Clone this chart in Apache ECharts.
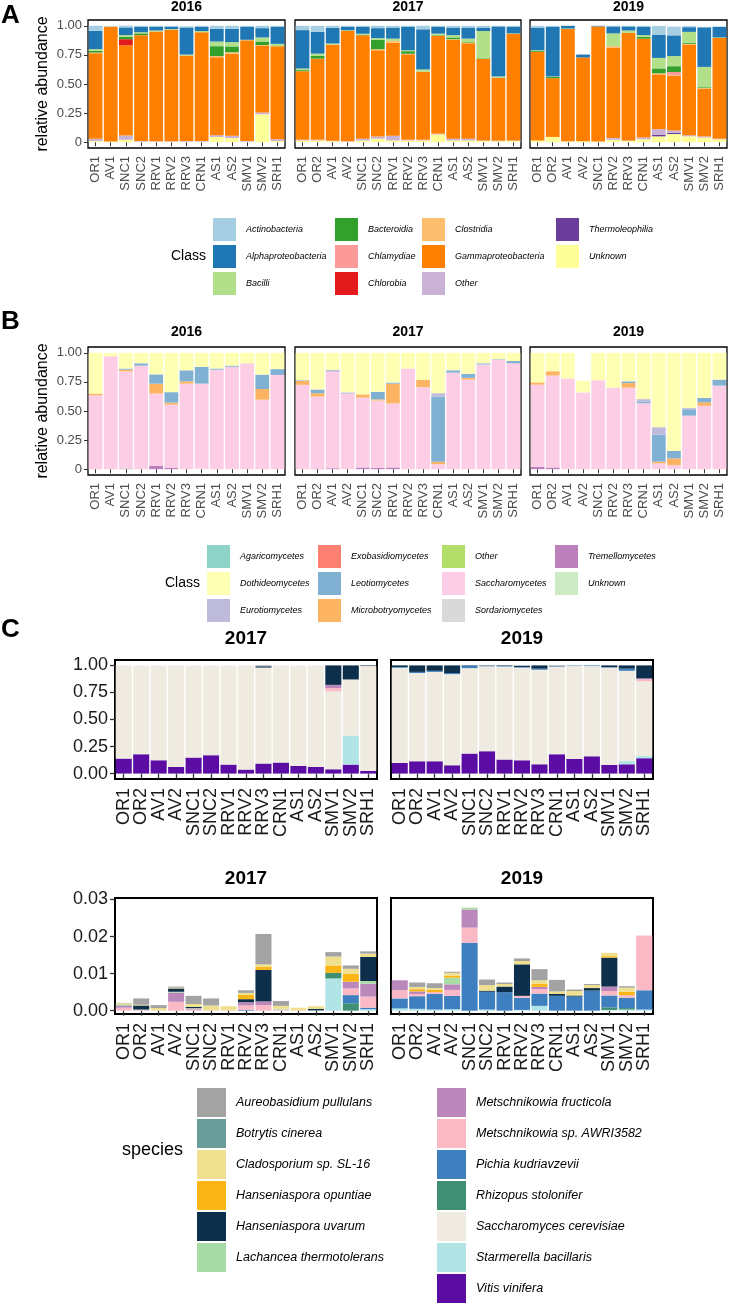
<!DOCTYPE html>
<html><head><meta charset="utf-8">
<script src="https://cdn.jsdelivr.net/npm/echarts@6/dist/echarts.min.js"></script>
<style>html,body{margin:0;padding:0;background:#fff}#c{width:729px;height:1312px}</style>
</head><body><div id="c"></div>
<script>
// ================= DATA =================
// ---- Panel A : bacterial classes ----
const A_classes = ['Actinobacteria','Alphaproteobacteria','Bacilli','Bacteroidia','Chlamydiae','Chlorobia','Clostridia','Gammaproteobacteria','Other','Thermoleophilia','Unknown'];
const A_colors  = ['#a6cee3','#1f78b4','#b2df8a','#33a02c','#fb9a99','#e31a1c','#fdbf6f','#ff7f00','#cab2d6','#6a3d9a','#ffff99'];
const A2016_sites = ['OR1','AV1','SNC1','SNC2','RRV1','RRV2','RRV3','CRN1','AS1','AS2','SMV1','SMV2','SRH1'];
const A2017_sites = ['OR1','OR2','AV1','AV2','SNC1','SNC2','RRV1','RRV2','RRV3','CRN1','AS1','AS2','SMV1','SMV2','SRH1'];
const A2019_sites = ['OR1','OR2','AV1','AV2','SNC1','RRV2','RRV3','CRN1','AS1','AS2','SMV1','SMV2','SRH1'];
const A2016 = {
  Actinobacteria:      [.043,.005,.015,.01,.01,.01,.01,.01,.025,.025,.01,.02,.01],
  Alphaproteobacteria: [.157,0,.066,.045,.03,.018,.233,.035,.11,.115,.11,.08,.145],
  Bacilli:             [.015,0,.015,.01,.008,.005,.008,.01,.04,.037,.005,.035,.02],
  Bacteroidia:         [.015,0,.02,.015,0,0,0,0,.085,.05,0,.03,0],
  Chlorobia:           [0,0,.052,0,0,0,0,0,0,0,0,0,0],
  Clostridia:          [.005,.005,0,0,0,0,0,0,.01,.012,0,.005,0],
  Gammaproteobacteria: [.735,.985,.776,.91,.945,.96,.735,.935,.67,.706,.865,.575,.80],
  Other:               [.02,0,.037,.005,.004,.004,.005,.005,.015,.02,.005,.015,.015],
  Unknown:             [.01,.005,.02,.005,.003,.003,.005,.005,.045,.035,.005,.24,.01]
};
const A2017 = {
  Actinobacteria:      [.037,.052,.017,.01,.01,.02,.015,.01,.03,.01,.015,.015,.015,.005,.01],
  Alphaproteobacteria: [.33,.187,.135,.028,.058,.086,.095,.20,.345,.057,.065,.095,.03,.43,.055],
  Bacilli:             [.014,.02,.01,.005,.008,.015,.02,.008,.02,.01,.02,.03,.235,.012,.005],
  Bacteroidia:         [.009,.023,0,0,.005,.08,0,.022,0,.006,.015,.005,.005,0,0],
  Clostridia:          [0,0,0,0,0,.01,.015,.005,0,.005,.005,.005,0,0,0],
  Gammaproteobacteria: [.59,.698,.825,.95,.89,.74,.80,.735,.585,.84,.85,.82,.70,.54,.915],
  Other:               [.005,.005,.005,.004,.015,.02,.04,.005,.005,.005,.015,.015,.005,.005,.005],
  Unknown:             [.015,.015,.008,.003,.014,.029,.015,.015,.015,.067,.015,.015,.01,.008,.01]
};
const A2019 = {
  Actinobacteria:      [.015,.01,0,0,0,.005,.005,.01,.075,.075,.01,.005,.005],
  Alphaproteobacteria: [.195,.425,.023,.025,.005,.06,.035,.07,.20,.178,.04,.34,.09],
  Bacilli:             [.005,.005,.005,0,0,.11,.02,.015,.09,.087,.095,.175,.005],
  Bacteroidia:         [.008,.01,0,0,0,0,0,.015,.042,.05,.008,.007,0],
  Chlamydiae:          [0,0,0,0,0,0,0,0,0,.028,0,0,0],
  Clostridia:          [0,0,0,0,0,.012,0,0,.01,.005,.005,.005,0],
  Gammaproteobacteria: [.762,.505,.965,.72,.99,.778,.925,.85,.47,.47,.78,.41,.865],
  Other:               [0,0,0,0,0,.015,.005,.015,.05,.02,.01,.01,.005],
  Thermoleophilia:     [0,0,0,0,0,0,0,0,.012,.01,0,0,0],
  Unknown:             [.015,.045,.007,.008,.005,.02,.01,.025,.05,.07,.05,.04,.025]
};

// ---- Panel B : fungal classes ----
const B_classes = ['Agaricomycetes','Dothideomycetes','Eurotiomycetes','Exobasidiomycetes','Leotiomycetes','Microbotryomycetes','Other','Saccharomycetes','Sordariomycetes','Tremellomycetes','Unknown'];
const B_colors  = ['#8dd3c7','#ffffb3','#bebada','#fb8072','#80b1d3','#fdb462','#b3de69','#fccde5','#d9d9d9','#bc80bd','#ccebc5'];
const B2016_sites = ['OR1','AV1','SNC1','SNC2','RRV1','RRV2','RRV3','CRN1','AS1','AS2','SMV1','SMV2','SRH1'];
const B2017_sites = ['OR1','OR2','AV1','AV2','SNC1','SNC2','RRV1','RRV2','RRV3','CRN1','AS1','AS2','SMV1','SMV2','SRH1'];
const B2019_sites = ['OR1','OR2','AV1','AV2','SNC1','RRV2','RRV3','CRN1','AS1','AS2','SMV1','SMV2','SRH1'];
const B2016 = {
  Dothideomycetes:    [.35,.03,.135,.09,.185,.338,.15,.12,.135,.11,.09,.187,.14],
  Leotiomycetes:      [0,0,.01,.02,.08,.09,.095,.145,.01,.01,0,.124,.05],
  Microbotryomycetes: [.015,0,.015,0,.085,.017,.02,0,0,0,0,.092,0],
  Saccharomycetes:    [.635,.97,.83,.89,.62,.545,.735,.73,.855,.88,.91,.597,.81],
  Sordariomycetes:    [0,0,.005,0,0,0,0,.005,0,0,0,0,0],
  Tremellomycetes:    [0,0,.005,0,.03,.01,0,0,0,0,0,0,0]
};
const B2017 = {
  Dothideomycetes:    [.235,.314,.147,.34,.357,.335,.255,.135,.232,.347,.15,.18,.09,.055,.07],
  Eurotiomycetes:     [0,.005,.015,.012,0,0,0,0,0,.03,0,0,0,0,0],
  Leotiomycetes:      [.005,.028,0,0,0,.065,.01,0,0,.56,.02,.035,.01,.005,.02],
  Microbotryomycetes: [.035,.028,0,0,.028,.01,.17,0,.063,.02,0,.015,0,0,0],
  Saccharomycetes:    [.725,.62,.83,.648,.60,.58,.55,.865,.705,.043,.83,.77,.90,.94,.91],
  Tremellomycetes:    [0,.005,.008,0,.015,.01,.015,0,0,0,0,0,0,0,0]
};
const B2019 = {
  Dothideomycetes:    [.254,.158,.22,.10,.236,.30,.245,.398,.639,.844,.475,.388,.23],
  Eurotiomycetes:     [0,0,0,0,0,0,0,.02,.066,0,.01,0,0],
  Leotiomycetes:      [0,0,0,0,0,0,.015,.015,.23,.063,.055,.037,.052],
  Microbotryomycetes: [.02,.037,0,0,0,0,.04,0,.015,.058,0,.03,0],
  Saccharomycetes:    [.706,.79,.78,.66,.764,.70,.70,.567,.05,.035,.46,.545,.718],
  Tremellomycetes:    [.02,.015,0,0,0,0,0,0,0,0,0,0,0]
};

// ---- Panel C : species ----
const C_species = ['Aureobasidium pullulans','Botrytis cinerea','Cladosporium sp. SL-16','Hanseniaspora opuntiae','Hanseniaspora uvarum','Lachancea thermotolerans','Metschnikowia fructicola','Metschnikowia sp. AWRI3582','Pichia kudriavzevii','Rhizopus stolonifer','Saccharomyces cerevisiae','Starmerella bacillaris','Vitis vinifera'];
const C_colors  = ['#a3a3a3','#6a9c9a','#eee08f','#fbb615','#0e2f4c','#a8dca6','#bb88bb','#fbb9c6','#3d7fbf','#3f8f74','#efebe0','#b1e5e5','#5a0ca3'];
const C_sites = ['OR1','OR2','AV1','AV2','SNC1','SNC2','RRV1','RRV2','RRV3','CRN1','AS1','AS2','SMV1','SMV2','SRH1'];
const C2017_all = {
  'Aureobasidium pullulans':    [0,0,0,0,0,0,0,0,.008,0,0,0,0,0,0],
  'Hanseniaspora uvarum':       [0,0,0,0,0,0,0,0,.012,0,0,0,.18,.13,.005],
  'Metschnikowia fructicola':   [0,0,0,0,0,0,0,0,0,0,0,0,.03,0,0],
  'Metschnikowia sp. AWRI3582': [0,0,0,0,0,0,0,0,0,0,0,0,.03,0,.005],
  'Saccharomyces cerevisiae':   [.861,.821,.877,.938,.852,.83,.917,.963,.887,.898,.929,.938,.72,.52,.965],
  'Starmerella bacillaris':     [0,0,0,0,0,0,0,0,0,0,0,0,0,.267,0],
  'Vitis vinifera':             [.139,.179,.123,.062,.148,.17,.083,.037,.093,.102,.071,.062,.04,.083,.025]
};
const C2019_all = {
  'Aureobasidium pullulans':    [0,0,0,0,0,0,0,0,0,.004,0,0,0,0,0],
  'Hanseniaspora uvarum':       [.015,.06,.05,.07,.005,.003,.005,.012,.03,.002,0,0,.015,.03,.12],
  'Metschnikowia fructicola':   [0,0,0,0,0,0,0,0,0,0,0,0,0,0,.008],
  'Metschnikowia sp. AWRI3582': [0,0,0,0,0,0,0,0,0,0,0,0,0,0,.02],
  'Pichia kudriavzevii':        [.006,.01,.01,.01,.02,.005,.005,.005,.01,.005,.004,.006,.005,.02,0],
  'Saccharomyces cerevisiae':   [.88,.816,.826,.843,.79,.785,.86,.857,.874,.81,.86,.834,.9,.834,.69],
  'Starmerella bacillaris':     [0,0,0,0,0,0,0,0,0,0,0,0,0,.03,.02],
  'Vitis vinifera':             [.099,.114,.114,.077,.185,.207,.13,.123,.086,.179,.136,.16,.08,.086,.142]
};
const C2017_minor = {
  'Aureobasidium pullulans':    [.0001,.0017,.0008,.0003,.0022,.0019,0,.0007,.0082,.0013,0,0,.0012,.0009,.0006],
  'Cladosporium sp. SL-16':     [.0004,.0002,.0006,.0002,.0008,.0013,.0011,.0005,.0006,.0008,.0007,.0007,.0024,.0013,.0009],
  'Hanseniaspora opuntiae':     [0,0,0,0,0,0,0,.0012,.0009,0,0,0,.002,.0022,0],
  'Hanseniaspora uvarum':       [.0001,.0011,0,.0009,.0003,0,0,.0008,.0085,0,0,.0004,0,0,.0065],
  'Lachancea thermotolerans':   [.0002,.0001,0,.0002,.0001,0,0,0,0,.0002,0,0,0,0,.0007],
  'Metschnikowia fructicola':   [.0005,0,0,.0025,.0003,0,0,.0009,.001,0,0,0,0,.0018,.0035],
  'Metschnikowia sp. AWRI3582': [.0008,.0002,.0001,.0024,.0003,.0001,.0001,.0012,.0015,.0003,.0001,0,0,.0018,.003],
  'Pichia kudriavzevii':        [0,0,0,0,0,0,0,.0002,0,0,0,0,0,.0022,.0004],
  'Rhizopus stolonifer':        [0,0,0,0,0,0,0,0,0,0,0,.0001,.0015,.002,0],
  'Starmerella bacillaris':     [0,0,0,0,0,0,0,0,0,0,0,0,.0087,0,.0004]
};
const C2019_minor = {
  'Aureobasidium pullulans':    [0,.0012,.0013,.0003,0,.0015,.0004,.0007,.003,.0031,.0004,.0003,0,.0004,0],
  'Cladosporium sp. SL-16':     [0,.0006,.0005,.0008,0,.0015,.0007,.0009,.0009,.0007,.0012,.0008,.0009,.0011,0],
  'Hanseniaspora opuntiae':     [0,.0006,.0006,.0005,0,0,0,0,.0009,0,0,0,.0004,.0009,0],
  'Hanseniaspora uvarum':       [0,0,0,0,0,.0003,.0015,.0085,0,.0005,.0003,.0007,.0078,0,0],
  'Lachancea thermotolerans':   [0,0,0,.0018,.0005,0,0,0,0,0,0,0,0,0,0],
  'Metschnikowia fructicola':   [.0027,.0007,0,.0015,.0049,0,0,0,.0006,0,0,0,.0012,0,0],
  'Metschnikowia sp. AWRI3582': [.0022,.0006,.0005,.0016,.0041,0,0,.0005,.0012,0,0,0,.0012,.0007,.0148],
  'Pichia kudriavzevii':        [.0027,.0034,.0042,.0036,.0183,.0048,.005,.0033,.0033,.004,.0038,.0054,.0032,.0028,.0052],
  'Rhizopus stolonifer':        [0,0,0,0,0,0,0,0,0,0,0,0,.0007,.0004,0],
  'Starmerella bacillaris':     [.0006,.0005,.0003,.0004,0,.0003,0,.0002,.0013,0,0,0,.0002,.0003,.0003]
};
const AB_ticks = [0, 0.25, 0.5, 0.75, 1];
const C_top_ticks = [0, 0.25, 0.5, 0.75, 1];
const C_bot_ticks = [0, 0.01, 0.02, 0.03];

// ================= BUILD =================
const FONT = '"Liberation Sans", Arial, Helvetica, sans-serif';
const grids = [], xAxes = [], yAxes = [], series = [], legends = [], graphics = [];

function panel(o) {
  const gi = grids.length;
  grids.push({left:o.x, top:o.y, width:o.w, height:o.h, show:true, borderColor:'#000', borderWidth:o.bw, backgroundColor:'rgba(0,0,0,0)'});
  xAxes.push({type:'category', gridIndex:gi, data:o.cats, boundaryGap:true,
    axisLine:{show:false}, splitLine:{show:false},
    axisTick:{show:true, alignWithLabel:true, length:o.tl, lineStyle:{color:'#333', width:o.tw}},
    axisLabel:{interval:0, rotate:90, fontSize:o.fs, color:o.lc, margin:o.xm, fontFamily:FONT}});
  yAxes.push({type:'value', gridIndex:gi, min:o.min, max:o.max, axisLine:{show:false}, splitLine:{show:false},
    axisTick:{show:o.showY, length:o.tl, customValues:o.ticks, lineStyle:{color:'#333', width:o.tw}},
    axisLabel:{show:o.showY, customValues:o.ticks, formatter:o.fmt, fontSize:o.fs, color:o.lc, margin:o.ym, fontFamily:FONT}});
  for (let i = o.names.length - 1; i >= 0; i--) {
    const nm = o.names[i];
    series.push({type:'bar', name:nm + o.suffix, xAxisIndex:gi, yAxisIndex:gi, stack:'s' + gi,
      data:o.data[nm] || [], barCategoryGap:o.gap, itemStyle:{color:o.colors[i]},
      emphasis:{disabled:true}, animation:false});
  }
}
function txt(text, x, y, font, align, rot) {
  graphics.push({type:'text', x:x, y:y, rotation:rot || 0, silent:true,
    style:{text:text, font:font, fill:'#000', align:align || 'center', verticalAlign:'middle',
           textAlign:align || 'center', textVerticalAlign:'middle'}});
}
function legendCol(names, suffix, left, top, size, gap, fs) {
  legends.push({orient:'vertical', left:left, top:top, itemWidth:size, itemHeight:size, itemGap:gap,
    icon:'rect', selectedMode:false, padding:0,
    textStyle:{fontSize:fs, fontStyle:'italic', fontFamily:FONT, color:'#000', padding:[0,0,0,5]},
    data:names.map(n => n + suffix)});
}
const fmtAB = v => v === 0 ? '0' : v.toFixed(2);
const fmtC2 = v => v.toFixed(2);

// ---- A ----
const abCommon = {h:128, bw:1.3, tl:4, tw:1, fs:13, lc:'#4d4d4d', xm:8, ym:6, min:-0.05, max:1.05, ticks:AB_ticks, fmt:fmtAB, gap:'9%'};
panel(Object.assign({}, abCommon, {x:88,  y:20, w:197, cats:A2016_sites, data:A2016, names:A_classes, colors:A_colors, suffix:'', showY:true}));
panel(Object.assign({}, abCommon, {x:295, y:20, w:226, cats:A2017_sites, data:A2017, names:A_classes, colors:A_colors, suffix:'', showY:false}));
panel(Object.assign({}, abCommon, {x:530, y:20, w:197, cats:A2019_sites, data:A2019, names:A_classes, colors:A_colors, suffix:'', showY:false}));
// ---- B ----
panel(Object.assign({}, abCommon, {x:88,  y:347, w:197, cats:B2016_sites, data:B2016, names:B_classes, colors:B_colors, suffix:' ', showY:true}));
panel(Object.assign({}, abCommon, {x:295, y:347, w:226, cats:B2017_sites, data:B2017, names:B_classes, colors:B_colors, suffix:' ', showY:false}));
panel(Object.assign({}, abCommon, {x:530, y:347, w:197, cats:B2019_sites, data:B2019, names:B_classes, colors:B_colors, suffix:' ', showY:false}));
// ---- C ----
const cCommon = {bw:2, tl:5, tw:1.3, fs:18, lc:'#1a1a1a', xm:9, ym:7, gap:'8%', names:C_species, colors:C_colors, suffix:'', cats:C_sites};
panel(Object.assign({}, cCommon, {x:115, y:660, w:262, h:119, min:-0.05, max:1.05, ticks:C_top_ticks, fmt:fmtC2, data:C2017_all, showY:true}));
panel(Object.assign({}, cCommon, {x:391, y:660, w:262, h:119, min:-0.05, max:1.05, ticks:C_top_ticks, fmt:fmtC2, data:C2019_all, showY:false}));
panel(Object.assign({}, cCommon, {x:115, y:898, w:262, h:116, min:-0.0009, max:0.0304, ticks:C_bot_ticks, fmt:fmtC2, data:C2017_minor, showY:true}));
panel(Object.assign({}, cCommon, {x:391, y:898, w:262, h:116, min:-0.0009, max:0.0304, ticks:C_bot_ticks, fmt:fmtC2, data:C2019_minor, showY:false}));

// ---- texts ----
const F = (w, s) => w + ' ' + s + 'px ' + FONT;
txt('A', 1, 16, F('bold', 26), 'left');
txt('B', 1, 322, F('bold', 26), 'left');
txt('C', 1, 630, F('bold', 26), 'left');
txt('2016', 186.5, 7, F('bold', 14)); txt('2017', 408, 7, F('bold', 14)); txt('2019', 628.5, 7, F('bold', 14));
txt('2016', 186.5, 332, F('bold', 14)); txt('2017', 408, 332, F('bold', 14)); txt('2019', 628.5, 332, F('bold', 14));
txt('2017', 246, 639, F('bold', 19)); txt('2019', 522, 639, F('bold', 19));
txt('2017', 246, 879, F('bold', 19)); txt('2019', 522, 879, F('bold', 19));
txt('relative abundance', 43, 84, F('normal', 16), 'center', Math.PI / 2);
txt('relative abundance', 43, 411, F('normal', 16), 'center', Math.PI / 2);
txt('Class', 171, 256.5, F('normal', 14), 'left');
txt('Class', 165, 583.5, F('normal', 14), 'left');
txt('species', 122, 1150, F('normal', 18), 'left');

// ---- legends ----
legendCol(A_classes.slice(0, 3), '', 213, 218, 23, 4, 9);
legendCol(A_classes.slice(3, 6), '', 335, 218, 23, 4, 9);
legendCol(A_classes.slice(6, 9), '', 422, 218, 23, 4, 9);
legendCol(A_classes.slice(9), '', 556, 218, 23, 4, 9);
legendCol(B_classes.slice(0, 3), ' ', 207, 545, 23, 4, 9);
legendCol(B_classes.slice(3, 6), ' ', 318, 545, 23, 4, 9);
legendCol(B_classes.slice(6, 9), ' ', 442, 545, 23, 4, 9);
legendCol(B_classes.slice(9), ' ', 555, 545, 23, 4, 9);
legendCol(C_species.slice(0, 6), '', 197, 1088, 29, 2, 12.5);
legendCol(C_species.slice(6), '', 437, 1088, 29, 2, 12.5);

const chart = echarts.init(document.getElementById('c'), null, {renderer:'canvas', width:729, height:1312});
chart.setOption({animation:false, backgroundColor:'#fff', grid:grids, xAxis:xAxes, yAxis:yAxes,
  series:series, legend:legends, graphic:{elements:graphics}});
</script></body></html>
